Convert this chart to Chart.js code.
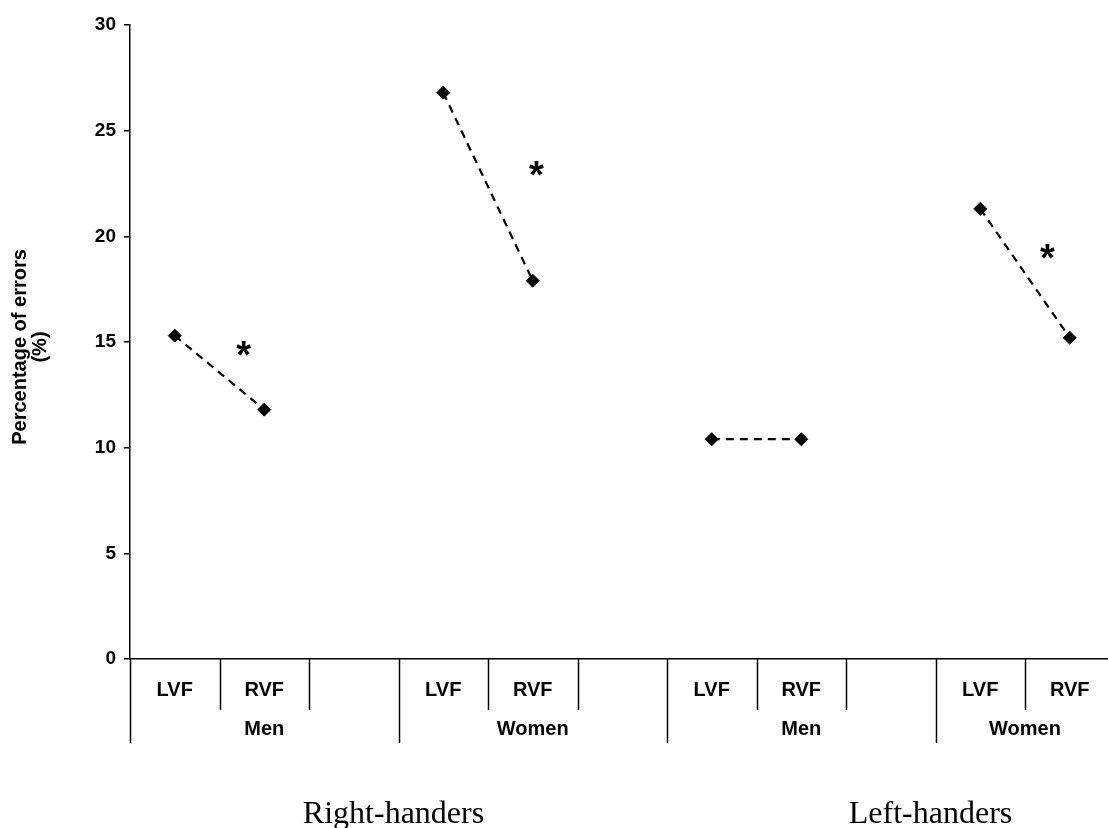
<!DOCTYPE html>
<html>
<head>
<meta charset="utf-8">
<script src="https://cdn.jsdelivr.net/npm/chart.js@4.4.0/dist/chart.umd.min.js"></script>
<style>
html, body { margin: 0; padding: 0; background: #fff; overflow: hidden; }
canvas { display: block; }
</style>
</head>
<body>
<canvas id="errChart" width="1122" height="828"></canvas>
<script>
// values
var fields = ['LVF', 'RVF', '', 'LVF', 'RVF', '', 'LVF', 'RVF', '', 'LVF', 'RVF'];
var errors = [15.3, 11.8, null, 26.8, 17.9, null, 10.4, 10.4, null, 21.3, 15.2];
var sexGroups = ['Men', 'Women', 'Men', 'Women'];
var sexSizes = [3, 3, 3, 2];
var hands = ['Right-handers', 'Left-handers'];
var yTicks = [0, 5, 10, 15, 20, 25, 30];
var yTitle = ['Percentage of errors', '(%)'];
// significance stars (category index, value)
var sigX = [0.77, 4.04, 9.75];
var sigY = [14.7, 23.2, 19.3];

var FONT = '"Liberation Sans", Arial, Helvetica, sans-serif';

// draws the two-level category table under the axis, the stars, the y title and the hand labels
var tablePlugin = {
    id: 'tablePlugin',
    afterDraw: function(chart) {
        var ctx = chart.ctx;
        var x = chart.scales.x;
        var y = chart.scales.y;
        var bottom = chart.chartArea.bottom;
        var w = x.getPixelForValue(1) - x.getPixelForValue(0);

        var starts = [];
        var s = 0;
        sexSizes.forEach(function(n) { starts.push(s); s += n; });

        ctx.save();
        ctx.strokeStyle = '#000';
        ctx.lineWidth = 1.5;
        for (var i = 0; i < fields.length; i++) {
            var bx = Math.round(x.getPixelForValue(i) - w / 2) + 0.5;
            var isGroup = starts.indexOf(i) >= 0;
            ctx.beginPath();
            ctx.moveTo(bx, bottom);
            ctx.lineTo(bx, bottom + (isGroup ? 84 : 51));
            ctx.stroke();
        }

        ctx.fillStyle = '#000';
        ctx.textAlign = 'center';
        ctx.textBaseline = 'middle';
        ctx.font = 'bold 20px ' + FONT;
        fields.forEach(function(f, i) {
            if (f) ctx.fillText(f, x.getPixelForValue(i), bottom + 31);
        });
        sexGroups.forEach(function(g, k) {
            var c = starts[k] + (sexSizes[k] - 1) / 2;
            ctx.fillText(g, x.getPixelForValue(c), bottom + 70);
        });

        // y axis title
        ctx.save();
        ctx.translate(20, 347);
        ctx.rotate(-Math.PI / 2);
        ctx.font = 'bold 20px ' + FONT;
        yTitle.forEach(function(t, k) { ctx.fillText(t, 0, k * 20); });
        ctx.restore();

        ctx.textBaseline = 'alphabetic';
        ctx.font = '32px "Liberation Serif", "Times New Roman", serif';
        hands.forEach(function(h, k) {
            ctx.fillText(h, x.getPixelForValue(k * 6 + 2.5) - 5, bottom + 164);
        });

        ctx.font = 'bold 38px ' + FONT;
        var m = ctx.measureText('*');
        var off = (m.actualBoundingBoxAscent - m.actualBoundingBoxDescent) / 2;
        sigX.forEach(function(v, k) {
            ctx.fillText('*', x.getPixelForValue(v), y.getPixelForValue(sigY[k]) + off);
        });
        ctx.restore();
    }
};

var ctx = document.getElementById('errChart').getContext('2d');
var errChart = new Chart(ctx, {
    type: 'line',
    data: {
        labels: fields,
        datasets: [{
            label: 'Percentage of errors',
            data: errors,
            borderColor: '#000',
            borderWidth: 2.2,
            borderDash: [8, 6],
            tension: 0,
            spanGaps: false,
            pointStyle: 'rectRot',
            pointRadius: 6.5,
            pointBackgroundColor: '#000',
            pointBorderColor: '#000',
            pointBorderWidth: 1
        }]
    },
    options: {
        responsive: false,
        animation: false,
        layout: { padding: { top: 25, left: 0, right: 0, bottom: 0 } },
        plugins: {
            legend: { display: false },
            tooltip: { enabled: false }
        },
        scales: {
            x: {
                offset: true,
                ticks: { display: false },
                grid: { display: false },
                border: { display: true, color: '#000', width: 1.5 },
                afterFit: function(s) { s.height = 169; }
            },
            y: {
                min: 0,
                max: 30,
                afterBuildTicks: function(s) {
                    s.ticks = yTicks.map(function(v) { return { value: v }; });
                },
                ticks: {
                    color: '#000',
                    padding: 8,
                    font: { family: FONT, size: 19, weight: 'bold' }
                },
                grid: {
                    display: true,
                    drawOnChartArea: false,
                    drawTicks: true,
                    tickLength: 6,
                    color: '#000',
                    lineWidth: 1.5
                },
                border: { display: true, color: '#000', width: 1.5 },
                afterFit: function(s) { s.width = 130; }
            }
        }
    },
    plugins: [tablePlugin]
});
</script>
</body>
</html>
